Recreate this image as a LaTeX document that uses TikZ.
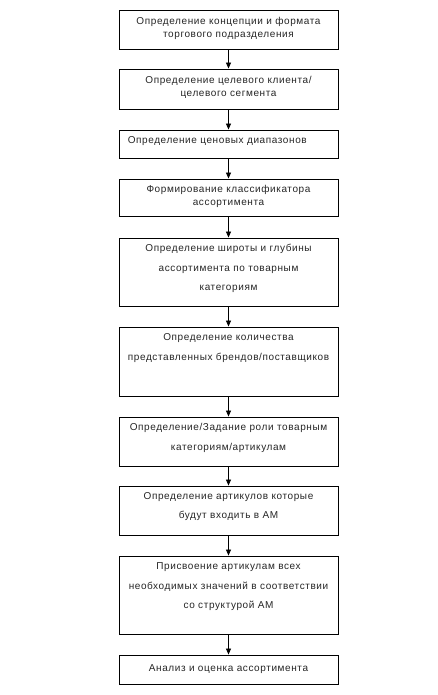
\documentclass[tikz,border=0pt]{standalone}
\usepackage{fontspec}
\setmainfont{Liberation Sans}[LetterSpace=6]
\usetikzlibrary{arrows.meta}
\tikzset{
  stepbox/.style={draw=black, line width=0.9pt, minimum width=219pt, inner sep=0pt, fill=white},
  single/.style={font=\fontsize{10pt}{13pt}\selectfont, text=black!85, align=center, inner sep=0pt, anchor=north,
    execute at begin node={\rule{0pt}{9pt}}},
  onehalf/.style={font=\fontsize{10pt}{19.5pt}\selectfont, text=black!85, align=center, inner sep=0pt, anchor=north,
    execute at begin node={\rule{0pt}{9pt}}},
  arr/.style={draw=black, line width=0.8pt, -{Triangle[length=6pt,width=5pt]}}
}
\begin{document}
\begin{tikzpicture}[x=1pt,y=1pt]
\useasboundingbox (0,0) rectangle (437,-695);
\fill[white] (0,0) rectangle (437,-695);
% boxes: center y = -(top+bottom)/2, height = bottom-top
\node[stepbox, minimum height=39pt] (b1) at (228.5,-29.5) {};
\node[stepbox, minimum height=40pt] (b2) at (228.5,-89) {};
\node[stepbox, minimum height=28pt] (b3) at (228.5,-144) {};
\node[stepbox, minimum height=37pt] (b4) at (228.5,-197.5) {};
\node[stepbox, minimum height=68pt] (b5) at (228.5,-272) {};
\node[stepbox, minimum height=69pt] (b6) at (228.5,-361.5) {};
\node[stepbox, minimum height=49pt] (b7) at (228.5,-441.5) {};
\node[stepbox, minimum height=49pt] (b8) at (228.5,-510.5) {};
\node[stepbox, minimum height=78pt] (b9) at (228.5,-595) {};
\node[stepbox, minimum height=29pt] (b10) at (228.5,-669.5) {};
% texts (first baseline = north - 9pt)
\node[single] (t1) at ([yshift=-8pt]b1.north) {Определение концепции и формата\\торгового подразделения};
\node[single] (t2) at ([yshift=-8pt]b2.north) {Определение целевого клиента/\\целевого сегмента};
\node[single, anchor=north west] (t3) at ([yshift=-5pt]b3.north west) {\hspace*{9pt}Определение ценовых диапазонов};
\node[single] (t4) at ([yshift=-7pt]b4.north) {Формирование классификатора\\ассортимента};
\node[onehalf] (t5) at ([yshift=-6.5pt]b5.north) {Определение широты и глубины\\ассортимента по товарным\\категориям};
\node[onehalf] (t6) at ([yshift=-7pt]b6.north) {Определение количества\\представленных брендов/поставщиков};
\node[onehalf] (t7) at ([yshift=-6.5pt]b7.north) {Определение/Задание роли товарным\\категориям/артикулам};
\node[onehalf] (t8) at ([yshift=-6.5pt]b8.north) {Определение артикулов которые\\будут входить в АМ};
\node[onehalf] (t9) at ([yshift=-7pt]b9.north) {Присвоение артикулам всех\\необходимых значений в соответствии\\со структурой АМ};
\node[single] (t10) at ([yshift=-8pt]b10.north) {Анализ и оценка ассортимента};
% arrows
\draw[arr] (b1.south) -- (b2.north);
\draw[arr] (b2.south) -- (b3.north);
\draw[arr] (b3.south) -- (b4.north);
\draw[arr] (b4.south) -- (b5.north);
\draw[arr] (b5.south) -- (b6.north);
\draw[arr] (b6.south) -- (b7.north);
\draw[arr] (b7.south) -- (b8.north);
\draw[arr] (b8.south) -- (b9.north);
\draw[arr] (b9.south) -- (b10.north);
\end{tikzpicture}
\end{document}
